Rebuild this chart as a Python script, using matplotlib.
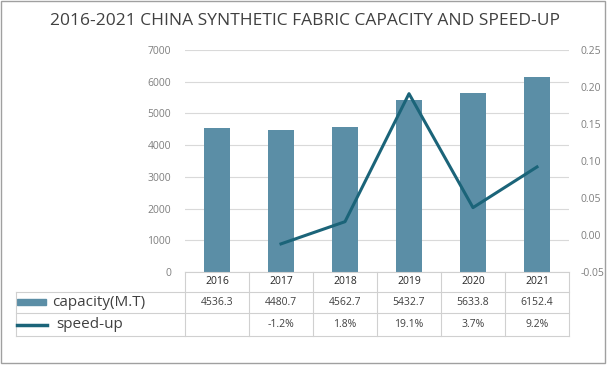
import matplotlib
matplotlib.use("Agg")
import matplotlib.pyplot as plt
from matplotlib.transforms import blended_transform_factory
from matplotlib.patches import Rectangle
from matplotlib.lines import Line2D

years = ["2016", "2017", "2018", "2019", "2020", "2021"]
capacity = [4536.3, 4480.7, 4562.7, 5432.7, 5633.8, 6152.4]
speedup = [None, -0.012, 0.018, 0.191, 0.037, 0.092]
capacity_labels = ["4536.3", "4480.7", "4562.7", "5432.7", "5633.8", "6152.4"]
speedup_labels = ["", "-1.2%", "1.8%", "19.1%", "3.7%", "9.2%"]
title = "2016-2021 CHINA SYNTHETIC FABRIC CAPACITY AND SPEED-UP"

BAR_C = "#5b8ea6"
LINE_C = "#1b6479"
GRID_C = "#d9d9d9"
TICK_C = "#7f7f7f"

plt.rcParams['font.family'] = ['Open Sans', 'DejaVu Sans']

W, H = 608, 365
fig = plt.figure(figsize=(W / 100, H / 100), dpi=100)

def fx(px):
    return px / W

def fy(py):
    return 1 - py / H

L, R, T, B = 185, 569, 50, 272
ax = fig.add_axes([fx(L), fy(B), fx(R) - fx(L), fy(T) - fy(B)])
x = list(range(len(years)))
ax.bar(x, capacity, width=0.4, color=BAR_C, zorder=2)
ax.set_xlim(-0.5, len(years) - 0.5)
ax.set_ylim(0, 7000)
ax.set_yticks(range(0, 7001, 1000))
ax.grid(axis='y', color=GRID_C, lw=0.8, zorder=0)
ax.set_xticks([])
for s in ax.spines.values():
    s.set_visible(False)
ax.tick_params(axis='y', length=0, colors=TICK_C, labelsize=7.5, pad=10)

ax2 = ax.twinx()
xs = [i for i, v in enumerate(speedup) if v is not None]
ys = [v for v in speedup if v is not None]
ax2.plot(xs, ys, color=LINE_C, lw=2.2, zorder=3)
ax2.set_ylim(-0.05, 0.25)
ax2.set_yticks([-0.05, 0, 0.05, 0.10, 0.15, 0.20, 0.25])
ax2.set_yticklabels(["-0.05", "0.00", "0.05", "0.10", "0.15", "0.20", "0.25"])
for s in ax2.spines.values():
    s.set_visible(False)
ax2.tick_params(axis='y', length=0, colors=TICK_C, labelsize=7.5, pad=8)

# title
fig.text(fx(305), fy(21), title, ha='center', va='center', fontsize=12.5, color='#404040')

# data table
tb = blended_transform_factory(ax.transData, fig.transFigure)
TC = "#d0d0d0"
rows = [272, 292, 313, 336]
def hline(x0, x1, py):
    fig.add_artist(Line2D([fx(x0), fx(x1)], [fy(py), fy(py)], color=TC, lw=0.8))
def vline(px, y0, y1):
    fig.add_artist(Line2D([fx(px), fx(px)], [fy(y0), fy(y1)], color=TC, lw=0.8))

hline(L, R, rows[0])
for r in rows[1:]:
    hline(16, R, r)
colw = (R - L) / len(years)
for i in range(len(years) + 1):
    vline(L + i * colw, rows[0], rows[3])
vline(16, rows[1], rows[3])

for i, yv in enumerate(years):
    fig.text(i, fy((rows[0] + rows[1]) / 2), yv, transform=tb, ha='center', va='center',
             fontsize=7.5, color='#262626')
    fig.text(i, fy((rows[1] + rows[2]) / 2), capacity_labels[i], transform=tb, ha='center',
             va='center', fontsize=7.5, color='#404040')
    fig.text(i, fy((rows[2] + rows[3]) / 2), speedup_labels[i], transform=tb, ha='center',
             va='center', fontsize=7.5, color='#404040')

# legend keys
fig.add_artist(Rectangle((fx(17), fy(305)), fx(46) - fx(17), fy(299) - fy(305), color=BAR_C,
                         transform=fig.transFigure))
fig.add_artist(Line2D([fx(17), fx(47)], [fy(325), fy(325)], color=LINE_C, lw=2.5))
fig.text(fx(52), fy(302), "capacity(M.T)", ha='left', va='center', fontsize=11, color='#404040')
fig.text(fx(56), fy(324), "speed-up", ha='left', va='center', fontsize=11, color='#404040')

# outer border
fig.add_artist(Rectangle((fx(1), fy(363)), fx(605) - fx(1), fy(1) - fy(363), fill=False,
                         edgecolor='#a0a0a0', lw=1, transform=fig.transFigure))

fig.savefig("out.png", dpi=100)
